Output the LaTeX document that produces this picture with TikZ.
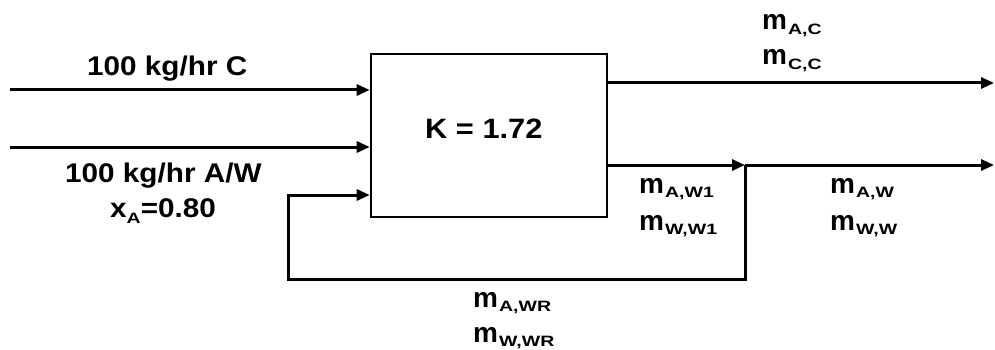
\documentclass[tikz,border=0pt]{standalone}
\usepackage{fontspec}
\setmainfont{Liberation Sans}[FakeStretch=1.1]
\newfontfamily\subfam{Liberation Sans}[FakeStretch=1.3]
\newfontfamily\mfam{Liberation Sans}[FakeStretch=1.0]
\usetikzlibrary{arrows.meta}
\newcommand{\mfont}{\mfam\bfseries\fontsize{28}{30}\selectfont}
\newcommand{\sbfont}{\subfam\bfseries\fontsize{15}{17}\selectfont}
\newcommand{\mlab}[1]{{\mfont m}\hspace{1pt}\raisebox{-4.5pt}{\sbfont #1}}
\begin{document}
\begin{tikzpicture}[x=1pt,y=-1pt,
  flow/.style={line width=3pt,-{Triangle[length=13pt,width=11pt]}},
  pipe/.style={line width=3pt},
  lbl/.style={inner sep=0pt,anchor=base west,font=\bfseries},
  big/.style={font=\fontsize{27}{31}\selectfont\bfseries}]
\useasboundingbox (0,0) rectangle (995,350);
\node[draw,line width=2.6pt,minimum width=236pt,minimum height=163pt,inner sep=0pt] (k) at (489,135.5) {};
\node[lbl,font=\fontsize{28}{32}\selectfont\bfseries] (klab) at (425,139) {K = 1.72};
% inputs
\coordinate (in1) at (10,90);
\coordinate (in2) at (10,147);
\draw[flow] (in1) -- (k.west |- in1);
\draw[flow] (in2) -- (k.west |- in2);
\node[lbl,big] (t1) at (87,76) {100 kg/hr C};
\node[lbl,big] (t2) at (65,182) {100 kg/hr A/W};
\node[lbl,big] (t3) at (110,217) {x\raisebox{-6pt}{\sbfont A}=0.80};
% outputs
\coordinate (out1) at (994,83);
\coordinate (split) at (745,165);
\coordinate (out2) at (994,165);
\draw[flow] (k.east |- out1) -- (out1);
\draw[flow] (k.east |- split) -- (split);
\draw[flow] (split) -- (out2);
% recycle
\coordinate (r1) at (745,279);
\coordinate (r2) at (288,279);
\coordinate (r3) at (288,195);
\draw[pipe] (split) -- (r1) -- (r2) -- (r3);
\draw[flow] ([xshift=-1.5pt]r3) -- (k.west |- r3);
% labels
\node[lbl] (mac) at (762,30) {\mlab{A,C}};
\node[lbl] (mcc) at (762,65) {\mlab{C,C}};
\node[lbl] (maw1) at (639,193) {\mlab{A,W1}};
\node[lbl] (mww1) at (639,230) {\mlab{W,W1}};
\node[lbl] (maw) at (830,193) {\mlab{A,W}};
\node[lbl] (mww) at (830,230) {\mlab{W,W}};
\node[lbl] (mawr) at (473,307) {\mlab{A,WR}};
\node[lbl] (mwwr) at (473,342) {\mlab{W,WR}};
\end{tikzpicture}
\end{document}
